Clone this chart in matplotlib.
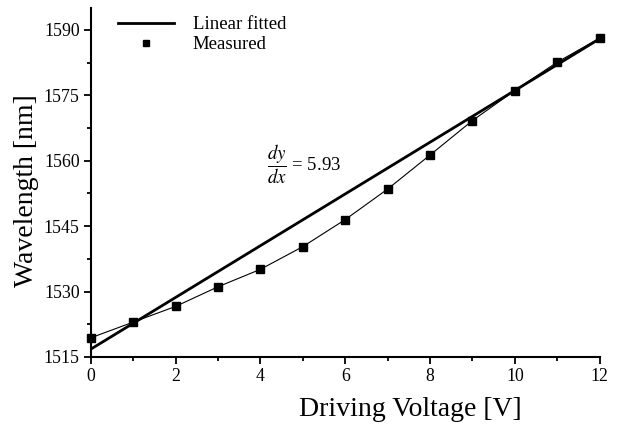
import numpy as np
import matplotlib.pyplot as plt
from matplotlib.ticker import MultipleLocator

plt.rcParams['font.family'] = ['Liberation Serif', 'DejaVu Serif']
plt.rcParams['mathtext.fontset'] = 'stix'

# measured data
voltage = [0, 1, 2, 3, 4, 5, 6, 7, 8, 9, 10, 11, 12]
wavelength = [1519.4, 1523.0, 1526.6, 1531.1, 1535.1, 1540.3, 1546.5,
              1553.5, 1561.3, 1569.2, 1576.1, 1582.6, 1588.1]

# linear fit
slope = 5.93
intercept = 1516.8
fit_x = [0, 12]
fit_y = [intercept + slope * v for v in fit_x]

fig = plt.figure(figsize=(6.22, 4.25), dpi=100)
ax = fig.add_axes([0.146, 0.16, 0.818, 0.821])

ax.plot(fit_x, fit_y, color='black', linewidth=2.0, label='Linear fitted', zorder=2)
ax.plot(voltage, wavelength, color='black', linewidth=0.8, zorder=3)
ax.plot(voltage, wavelength, linestyle='none', marker='s', markersize=5.3,
        color='black', label='Measured', zorder=4, clip_on=False)

ax.text(4.15, 1559.2, r'$\dfrac{dy}{dx}$' + ' = 5.93', fontsize=13.5,
        va='center', ha='left')

ax.set_xlim(0, 12)
ax.set_ylim(1515, 1595)
ax.xaxis.set_major_locator(MultipleLocator(2))
ax.xaxis.set_minor_locator(MultipleLocator(1))
ax.yaxis.set_major_locator(MultipleLocator(15))
ax.yaxis.set_minor_locator(MultipleLocator(7.5))
ax.tick_params(which='major', length=5, width=1.3, labelsize=12.8, pad=3)
ax.tick_params(which='minor', length=3, width=1.3)

ax.spines['top'].set_visible(False)
ax.spines['right'].set_visible(False)
ax.spines['left'].set_linewidth(1.5)
ax.spines['bottom'].set_linewidth(1.5)

ax.set_xlabel('Driving Voltage [V]', fontsize=20)
ax.xaxis.set_label_coords(0.627, -0.116)
ax.set_ylabel('Wavelength [nm]', fontsize=20)
ax.yaxis.set_label_coords(-0.101, 0.478)

handles, labels = ax.get_legend_handles_labels()
ax.legend(handles, labels, loc='upper left', bbox_to_anchor=(0.02, 1.025),
          frameon=False, fontsize=13.5, handlelength=3.0, handletextpad=1.0,
          labelspacing=0.15, markerscale=0.75)

fig.savefig('out.png', dpi=100)
